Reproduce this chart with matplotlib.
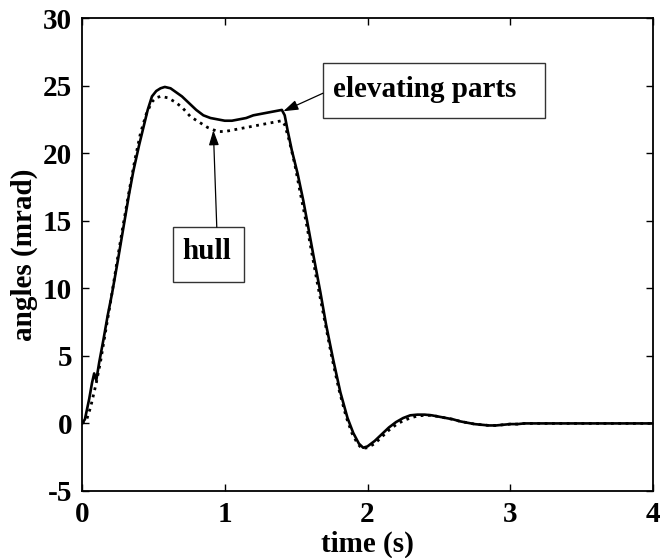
import matplotlib
matplotlib.use("Agg")
import matplotlib.pyplot as plt
from matplotlib.patches import Rectangle

# --- Data ---
t_elev = [0, 0.02, 0.05, 0.07, 0.085, 0.10, 0.12, 0.15, 0.18, 0.21, 0.25, 0.29, 0.33, 0.36,
          0.40, 0.43, 0.46, 0.49, 0.52, 0.55, 0.58, 0.62, 0.66, 0.70, 0.75, 0.80, 0.85, 0.90,
          0.95, 1.00, 1.05, 1.10, 1.15, 1.20, 1.25, 1.30, 1.35, 1.40, 1.42, 1.44, 1.47, 1.51,
          1.55, 1.58, 1.62, 1.67, 1.71, 1.76, 1.81, 1.86, 1.90, 1.94, 1.97, 2.00, 2.05, 2.10,
          2.15, 2.20, 2.25, 2.30, 2.35, 2.40, 2.45, 2.50, 2.55, 2.60, 2.65, 2.70, 2.75, 2.80,
          2.85, 2.90, 2.95, 3.00, 3.05, 3.10, 3.15, 3.50, 4.00]
y_elev = [0, 0.3, 1.8, 3.0, 3.7, 3.2, 4.5, 6.2, 8.0, 9.6, 12.0, 14.5, 17.0, 18.7,
          20.6, 21.9, 23.2, 24.2, 24.6, 24.8, 24.9, 24.8, 24.5, 24.2, 23.7, 23.2, 22.8, 22.6,
          22.5, 22.4, 22.4, 22.5, 22.6, 22.8, 22.9, 23.0, 23.1, 23.2, 22.8, 21.7, 20.2, 18.5,
          16.5, 14.8, 12.5, 9.7, 7.3, 4.7, 2.3, 0.4, -0.7, -1.5, -1.8, -1.7, -1.3, -0.8,
          -0.3, 0.1, 0.4, 0.6, 0.65, 0.65, 0.6, 0.5, 0.4, 0.3, 0.15, 0.05, -0.05, -0.1,
          -0.15, -0.15, -0.1, -0.05, -0.05, 0.0, 0.0, 0.0, 0.0]

t_hull = [0, 0.03, 0.06, 0.10, 0.13, 0.16, 0.20, 0.25, 0.29, 0.33, 0.37, 0.41, 0.45, 0.49,
          0.52, 0.55, 0.60, 0.65, 0.70, 0.76, 0.82, 0.88, 0.95, 1.00, 1.05, 1.10, 1.15, 1.20,
          1.25, 1.30, 1.35, 1.40, 1.42, 1.45, 1.49, 1.53, 1.57, 1.61, 1.65, 1.70, 1.75, 1.80,
          1.85, 1.89, 1.93, 1.96, 2.00, 2.05, 2.10, 2.15, 2.20, 2.25, 2.30, 2.35, 2.40, 2.45,
          2.50, 2.55, 2.60, 2.65, 2.70, 2.75, 2.80, 2.85, 2.90, 2.95, 3.00, 3.05, 3.10, 3.50, 4.00]
y_hull = [0, 0.2, 1.2, 3.0, 4.6, 6.5, 9.0, 12.3, 14.8, 17.2, 19.5, 21.5, 22.9, 23.8,
          24.1, 24.2, 24.1, 23.8, 23.4, 22.7, 22.3, 21.9, 21.6, 21.6, 21.7, 21.8, 21.9, 22.0,
          22.1, 22.2, 22.3, 22.4, 22.1, 21.0, 19.2, 17.0, 14.9, 12.6, 10.3, 7.6, 4.9, 2.5,
          0.5, -0.7, -1.5, -1.85, -1.8, -1.5, -1.0, -0.5, -0.1, 0.2, 0.4, 0.55, 0.6, 0.6,
          0.5, 0.4, 0.3, 0.15, 0.05, -0.05, -0.1, -0.15, -0.15, -0.1, -0.05, -0.05, 0.0, 0.0, 0.0]

x_ticks = [0, 1, 2, 3, 4]
y_ticks = [-5, 0, 5, 10, 15, 20, 25, 30]

# --- Style ---
plt.rcParams["font.family"] = ["Liberation Serif", "DejaVu Serif"]
plt.rcParams["font.weight"] = "bold"
plt.rcParams["axes.unicode_minus"] = False

fig = plt.figure(figsize=(6.68, 5.58), dpi=100)
ax = fig.add_axes([0.1228, 0.1201, 0.8547, 0.8476])

ax.plot(t_elev, y_elev, color="black", lw=1.9, ls="-")
ax.plot(t_hull, y_hull, color="black", lw=2.0, ls=":")

ax.set_xlim(0, 4)
ax.set_ylim(-5, 30)
ax.set_xticks(x_ticks)
ax.set_yticks(y_ticks)
ax.tick_params(direction="in", length=5, width=1, top=True, right=True, labelsize=21, pad=7)
for sp in ax.spines.values():
    sp.set_linewidth(1.3)

ax.set_xlabel("time (s)", fontsize=21, fontweight="bold", labelpad=2)
ax.set_ylabel("angles (mrad)", fontsize=21, fontweight="bold", labelpad=4)

# annotation boxes
ax.add_patch(Rectangle((0.422, 0.789), 0.389, 0.116, transform=ax.transAxes,
                       fill=False, lw=1, ec="#333333", clip_on=False))
ax.text(0.601, 0.848, "elevating parts", transform=ax.transAxes, fontsize=21,
        fontweight="bold", ha="center", va="center")
ax.annotate("", xy=(1.41, 23.1), xycoords="data", xytext=(0.422, 0.841),
            textcoords="axes fraction",
            arrowprops=dict(arrowstyle="-|>,head_length=0.9,head_width=0.3",
                            color="black", lw=0.9, shrinkA=0, shrinkB=0))

ax.add_patch(Rectangle((0.159, 0.442), 0.125, 0.116, transform=ax.transAxes,
                       fill=False, lw=1, ec="#333333", clip_on=False))
ax.text(0.219, 0.506, "hull", transform=ax.transAxes, fontsize=21,
        fontweight="bold", ha="center", va="center")
ax.annotate("", xy=(0.92, 21.7), xycoords="data", xytext=(0.236, 0.558),
            textcoords="axes fraction",
            arrowprops=dict(arrowstyle="-|>,head_length=0.9,head_width=0.3",
                            color="black", lw=0.9, shrinkA=0, shrinkB=0))

fig.savefig("out.png", dpi=100)
